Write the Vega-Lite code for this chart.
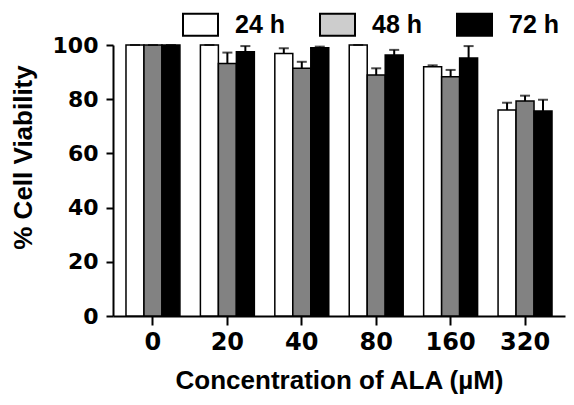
{
  "$schema": "https://vega.github.io/schema/vega-lite/v6.json",
  "width": 452,
  "height": 271,
  "autosize": {"type": "none"},
  "padding": {"left": 113, "top": 45, "right": 9, "bottom": 89},
  "background": "white",
  "config": {"view": {"stroke": null}},
  "data": {
    "values": [
      {"conc": "0", "time": "24 h", "value": 100, "hi": 100},
      {"conc": "0", "time": "48 h", "value": 100, "hi": 100},
      {"conc": "0", "time": "72 h", "value": 100, "hi": 100},
      {"conc": "20", "time": "24 h", "value": 100, "hi": 100},
      {"conc": "20", "time": "48 h", "value": 93.2, "hi": 97.2},
      {"conc": "20", "time": "72 h", "value": 97.5, "hi": 99.6},
      {"conc": "40", "time": "24 h", "value": 96.9, "hi": 98.8},
      {"conc": "40", "time": "48 h", "value": 91.4, "hi": 93.8},
      {"conc": "40", "time": "72 h", "value": 99.0, "hi": 99.4},
      {"conc": "80", "time": "24 h", "value": 100, "hi": 100},
      {"conc": "80", "time": "48 h", "value": 88.9, "hi": 91.4},
      {"conc": "80", "time": "72 h", "value": 96.3, "hi": 98.2},
      {"conc": "160", "time": "24 h", "value": 92.0, "hi": 92.5},
      {"conc": "160", "time": "48 h", "value": 88.3, "hi": 90.8},
      {"conc": "160", "time": "72 h", "value": 95.2, "hi": 99.6},
      {"conc": "320", "time": "24 h", "value": 76.0, "hi": 78.7},
      {"conc": "320", "time": "48 h", "value": 79.3, "hi": 81.3},
      {"conc": "320", "time": "72 h", "value": 75.6, "hi": 79.8}
    ]
  },
  "encoding": {
    "x": {
      "field": "conc",
      "type": "nominal",
      "sort": ["0", "20", "40", "80", "160", "320"],
      "scale": {"paddingInner": 0.275, "paddingOuter": 0.1745},
      "axis": {
        "title": "Concentration of ALA (µM)",
        "labelAngle": 0,
        "labelFont": "DejaVu Sans",
        "labelFontWeight": "bold",
        "labelFontSize": 24,
        "labelColor": "black",
        "labelPadding": 5,
        "tickSize": 9,
        "tickWidth": 2,
        "tickColor": "black",
        "domainColor": "black",
        "domainWidth": 2,
        "titleFont": "Liberation Sans",
        "titleFontWeight": "bold",
        "titleFontSize": 26,
        "titleColor": "black",
        "titlePadding": 13
      }
    },
    "xOffset": {
      "field": "time",
      "type": "nominal",
      "sort": ["24 h", "48 h", "72 h"],
      "scale": {"paddingInner": 0, "paddingOuter": 0}
    }
  },
  "layer": [
    {
      "mark": {"type": "bar", "stroke": "black", "strokeWidth": 1.5},
      "encoding": {
        "y": {
          "field": "value",
          "type": "quantitative",
          "scale": {"domain": [0, 100], "nice": false},
          "axis": {
            "title": "% Cell Viability",
            "values": [0, 20, 40, 60, 80, 100],
            "grid": false,
            "labelFont": "DejaVu Sans",
            "labelFontWeight": "bold",
            "labelFontSize": 22,
            "labelColor": "black",
            "labelPadding": 8,
            "tickSize": 7,
            "tickWidth": 2,
            "tickColor": "black",
            "domainColor": "black",
            "domainWidth": 2,
            "titleFont": "Liberation Sans",
            "titleFontWeight": "bold",
            "titleFontSize": 26,
            "titleColor": "black",
            "titleX": -90,
            "titleY": 112,
            "titleAngle": -90,
            "titleAlign": "center",
            "titleBaseline": "middle"
          }
        },
        "fill": {
          "field": "time",
          "type": "nominal",
          "sort": ["24 h", "48 h", "72 h"],
          "scale": {"domain": ["24 h", "48 h", "72 h"], "range": ["#ffffff", "#828282", "#000000"]},
          "legend": {
            "title": null,
            "orient": "none",
            "legendX": 69,
            "legendY": -39,
            "direction": "horizontal",
            "padding": 0,
            "symbolType": "M-1,-0.63H1V0.63H-1Z",
            "symbolSize": 1225,
            "symbolStrokeColor": "black",
            "symbolStrokeWidth": 2,
            "symbolOpacity": 1,
            "labelFont": "Liberation Sans",
            "labelFontWeight": "bold",
            "labelFontSize": 25,
            "labelColor": "black",
            "labelOffset": 16,
            "columnPadding": 30,
            "encode": {
              "symbols": {
                "update": {
                  "stroke": {"value": "black"},
                  "strokeWidth": {"value": 2},
                  "fillOpacity": [
                    {"test": "datum.value === '48 h'", "value": 0.4},
                    {"value": 1}
                  ]
                }
              }
            }
          }
        }
      }
    },
    {
      "mark": {"type": "rule", "color": "black", "strokeWidth": 2},
      "encoding": {
        "y": {"field": "value", "type": "quantitative"},
        "y2": {"field": "hi"}
      }
    },
    {
      "mark": {"type": "tick", "color": "black", "thickness": 2, "size": 10},
      "encoding": {
        "y": {"field": "hi", "type": "quantitative"}
      }
    }
  ]
}
